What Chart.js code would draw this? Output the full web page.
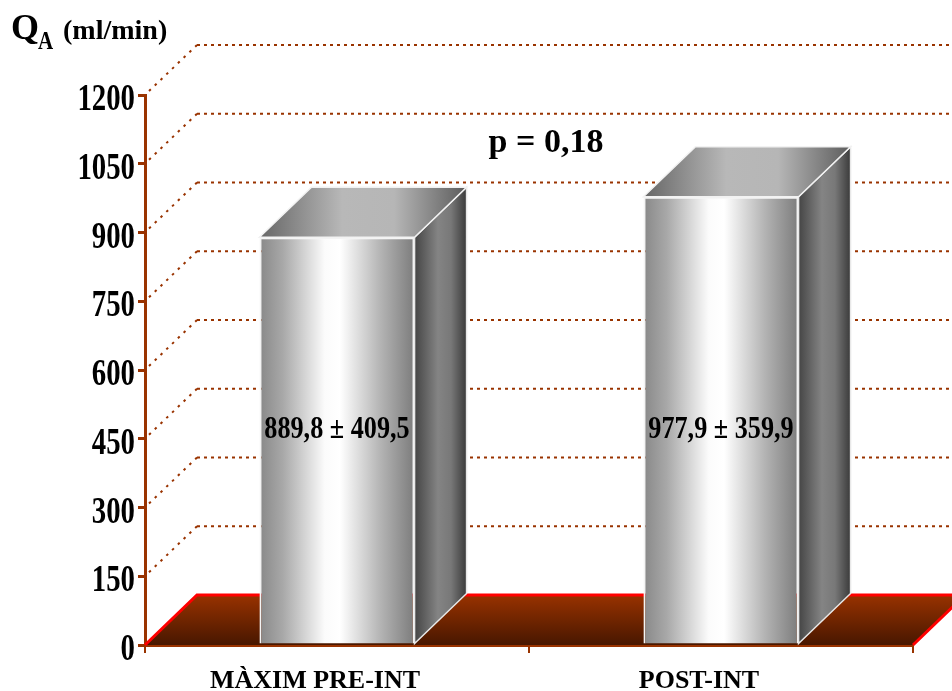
<!DOCTYPE html>
<html>
<head>
<meta charset="utf-8">
<script src="https://cdn.jsdelivr.net/npm/chart.js@4"></script>
<style>
  html, body { margin: 0; padding: 0; background: #fff; }
  canvas { display: block; }
</style>
</head>
<body>
<canvas id="qaChart" width="952" height="691"></canvas>
<script>
// Q_A flow, mean ± SD per period
const categories = ['MÀXIM PRE-INT', 'POST-INT'];
const qaMean = [889.8, 977.9];
const qaSd = [409.5, 359.9];
const yTicks = [0, 150, 300, 450, 600, 750, 900, 1050, 1200];
const pLabel = 'p = 0,18';

const SERIF = '"Liberation Serif", "Times New Roman", serif';
const BROWN = '#993300';
const DX = 52, DY = 50; // depth of the 3D box

const fmt = v => v.toFixed(1).replace('.', ',');

function boldText(ctx, text, x, y, size, sx, sy, align) {
    ctx.save();
    ctx.translate(x, y);
    ctx.scale(sx, sy);
    ctx.font = 'bold ' + size + 'px ' + SERIF;
    ctx.textAlign = align || 'center';
    ctx.textBaseline = 'alphabetic';
    ctx.fillStyle = '#000';
    ctx.fillText(text, 0, 0);
    ctx.restore();
}

function hGrad(ctx, x0, x1, stops) {
    const g = ctx.createLinearGradient(x0, 0, x1, 0);
    stops.forEach(s => g.addColorStop(s[0], s[1]));
    return g;
}

function poly(ctx, pts) {
    ctx.beginPath();
    ctx.moveTo(pts[0][0], pts[0][1]);
    for (let i = 1; i < pts.length; i++) ctx.lineTo(pts[i][0], pts[i][1]);
    ctx.closePath();
}

// back wall grid + floor, behind the bars
const backdrop = {
    id: 'backdrop',
    beforeDatasetsDraw(chart) {
        const ctx = chart.ctx;
        const area = chart.chartArea;
        const ys = chart.scales.y;
        ctx.save();
        ctx.strokeStyle = BROWN;
        ctx.lineWidth = 2;
        yTicks.forEach(v => {
            if (v === 0) return;
            const y0 = ys.getPixelForValue(v);
            ctx.setLineDash([2.5, 5.5]);
            ctx.beginPath();
            ctx.moveTo(area.left + 4, y0 - 4);
            ctx.lineTo(area.left + DX, y0 - DY);
            ctx.stroke();
            ctx.setLineDash([3, 4]);
            ctx.beginPath();
            ctx.moveTo(area.left + DX, y0 - DY);
            ctx.lineTo(chart.width, y0 - DY);
            ctx.stroke();
        });
        ctx.setLineDash([]);

        // floor slab
        const b = ys.getPixelForValue(0);
        const fl = [[area.left, b], [area.right, b], [area.right + DX, b - DY], [area.left + DX, b - DY]];
        const g = ctx.createLinearGradient(0, b - DY, 0, b);
        g.addColorStop(0, '#983200');
        g.addColorStop(1, '#481700');
        poly(ctx, fl);
        ctx.fillStyle = g;
        ctx.fill();
        ctx.strokeStyle = '#ff0000';
        ctx.lineWidth = 3;
        ctx.beginPath();
        ctx.moveTo(area.left, b);
        ctx.lineTo(area.left + DX, b - DY);
        ctx.lineTo(area.right + DX, b - DY);
        ctx.lineTo(area.right, b);
        ctx.stroke();
        ctx.restore();
    },
    afterDatasetsDraw(chart) {
        const ctx = chart.ctx;
        const meta = chart.getDatasetMeta(0);
        ctx.save();
        meta.data.forEach((el, i) => {
            const p = el.getProps(['x', 'y', 'base', 'width'], true);
            const l = p.x - p.width / 2, r = p.x + p.width / 2;

            // side face
            poly(ctx, [[r, p.y], [r + DX, p.y - DY], [r + DX, p.base - DY], [r, p.base]]);
            ctx.fillStyle = hGrad(ctx, r, r + DX, [[0, '#454545'], [0.45, '#848484'], [0.7, '#787878'], [1, '#3a3a3a']]);
            ctx.fill();
            ctx.strokeStyle = '#e8e8e8';
            ctx.lineWidth = 1.5;
            ctx.stroke();

            // top face
            poly(ctx, [[l, p.y], [r, p.y], [r + DX, p.y - DY], [l + DX, p.y - DY]]);
            ctx.fillStyle = hGrad(ctx, l, r + DX, [[0, '#666666'], [0.4, '#b8b8b8'], [0.65, '#b6b6b6'], [1, '#5c5c5c']]);
            ctx.fill();
            ctx.strokeStyle = '#f2f2f2';
            ctx.stroke();

            boldText(ctx, fmt(qaMean[i]) + ' ± ' + fmt(qaSd[i]), p.x, chart.scales.y.getPixelForValue(450) - 1, 27, 0.97, 1.15);
        });
        ctx.restore();
    },
    afterDraw(chart) {
        const ctx = chart.ctx;
        const ys = chart.scales.y, xs = chart.scales.x;
        yTicks.forEach(v => {
            boldText(ctx, String(v), ys.right - 10, ys.getPixelForValue(v) + 15, 32, 0.9, 1.2, 'right');
        });
        categories.forEach((c, i) => {
            boldText(ctx, c, xs.getPixelForValue(i) - 22, 688, 26, 1, 1);
        });
        boldText(ctx, pLabel, 546, 152, 34, 1, 1);
        // axis title Q_A (ml/min)
        boldText(ctx, 'Q', 11, 39, 36, 1, 1, 'left');
        boldText(ctx, 'A', 38, 49, 21, 1, 1.2, 'left');
        boldText(ctx, '(ml/min)', 63, 39, 28, 1, 1, 'left');
    }
};

new Chart(document.getElementById('qaChart'), {
    type: 'bar',
    data: {
        labels: categories,
        datasets: [{
            data: qaMean,
            backgroundColor: (c) => {
                const chart = c.chart;
                const xs = chart.scales.x;
                if (!xs || c.dataIndex === undefined) return '#cccccc';
                const half = xs.width / categories.length * 0.404 / 2;
                const cx = xs.getPixelForValue(c.dataIndex);
                if (!isFinite(cx) || !isFinite(half)) return '#cccccc';
                return hGrad(chart.ctx, cx - half, cx + half,
                    [[0, '#888888'], [0.15, '#a8a8a8'], [0.42, '#fbfbfb'], [0.52, '#ffffff'], [0.78, '#b4b4b4'], [1, '#7c7c7c']]);
            },
            borderColor: '#f4f4f4',
            borderWidth: 2,
            categoryPercentage: 1,
            barPercentage: 0.404
        }]
    },
    options: {
        responsive: false,
        animation: false,
        layout: { padding: { top: 95, right: 39, left: 0, bottom: 0 } },
        plugins: {
            legend: { display: false },
            tooltip: { enabled: false }
        },
        scales: {
            y: {
                min: 0,
                max: 1200,
                z: 1,
                afterBuildTicks: s => { s.ticks = yTicks.map(v => ({ value: v })); },
                afterFit: s => { s.width = 145; },
                ticks: { display: false },
                grid: { drawOnChartArea: false, drawTicks: true, tickLength: 7, color: BROWN, lineWidth: 3 },
                border: { color: BROWN, width: 3 }
            },
            x: {
                z: 1,
                afterFit: s => { s.height = 46; },
                ticks: { display: false },
                grid: { drawOnChartArea: false, drawTicks: true, tickLength: 8, color: BROWN, lineWidth: 2 },
                border: { color: BROWN, width: 3 }
            }
        }
    },
    plugins: [backdrop]
});
</script>
</body>
</html>
